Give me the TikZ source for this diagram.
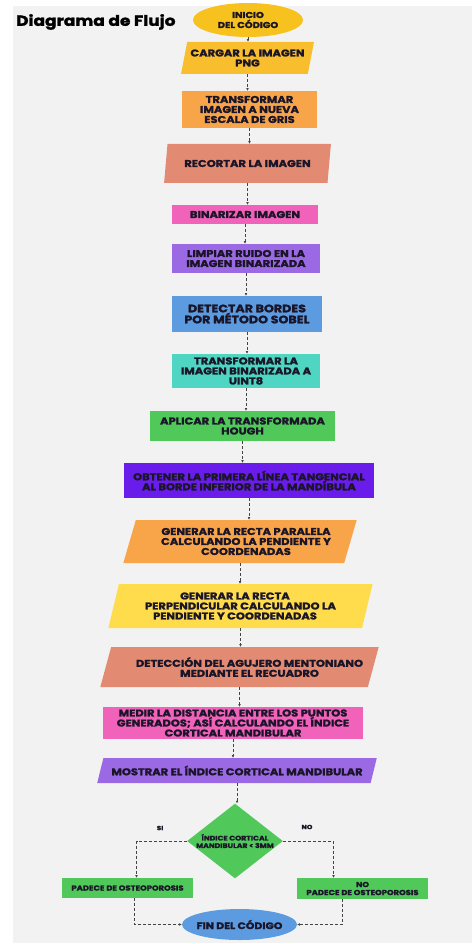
\documentclass[tikz,border=0pt]{standalone}
\usepackage{fontspec}
\setmainfont{Poppins}[BoldFeatures={FakeStretch=1.17,FakeBold=1.8}]
\usetikzlibrary{shapes.geometric,arrows.meta}
\definecolor{bg}{HTML}{F2F2F2}
\definecolor{txt}{HTML}{1A1528}
\definecolor{cini}{HTML}{F7C21E}
\definecolor{ccarg}{HTML}{F8BE2E}
\definecolor{corange}{HTML}{F8A54A}
\definecolor{csalmon}{HTML}{E28B72}
\definecolor{cpink}{HTML}{F162BA}
\definecolor{clav}{HTML}{9B69E4}
\definecolor{cblue}{HTML}{5C9BE0}
\definecolor{cteal}{HTML}{4ED6C2}
\definecolor{cgreen}{HTML}{50C85A}
\definecolor{cviolet}{HTML}{6A1CEB}
\definecolor{cyellow}{HTML}{FEDC4C}
\definecolor{cline}{HTML}{444444}
\begin{document}
\begin{tikzpicture}[x=1pt,y=-1pt,
  lbl/.style={text=txt,font=\bfseries\fontsize{9.8}{10}\selectfont,align=center,inner sep=0pt},
  rbox/.style={lbl,rectangle,fill=#1},
  pbox/.style={lbl,trapezium,trapezium stretches=true,fill=#1},
  conn/.style={cline,densely dashed,line width=0.8pt,-{Latex[length=2.6pt,width=2.6pt]}}]
\fill[white] (0,0) rectangle (472,944);
\fill[bg] (13,6) rectangle (472,943);
\node[anchor=west,font=\bfseries\fontsize{14.5}{17}\selectfont,text=black,inner sep=0pt] (title) at (16,22) {Diagrama de Flujo};

\node[lbl,ellipse,fill=cini,minimum width=110pt,minimum height=34pt,font=\bfseries\fontsize{8.5}{10}\selectfont] (ini) at (248,20) {INICIO\\DEL CÓDIGO};
\node[pbox=ccarg,minimum width=133pt,minimum height=32pt,trapezium left angle=71,trapezium right angle=109] (carg) at (247.5,58) {CARGAR LA IMAGEN\\PNG};
\node[rbox=corange,minimum width=135pt,minimum height=37pt] (tr1) at (249.5,109.5) {TRANSFORMAR\\IMAGEN A NUEVA\\ESCALA DE GRIS};
\node[pbox=csalmon,minimum width=167pt,minimum height=39pt,trapezium left angle=69,trapezium right angle=111] (rec) at (247.5,163.5) {RECORTAR LA IMAGEN};
\node[rbox=cpink,minimum width=146pt,minimum height=19pt] (bin) at (245,214.5) {BINARIZAR IMAGEN};
\node[rbox=clav,minimum width=148pt,minimum height=29pt] (lim) at (246,258.5) {LIMPIAR RUIDO EN LA\\IMAGEN BINARIZADA};
\node[rbox=cblue,minimum width=150pt,minimum height=36pt,font=\bfseries\fontsize{10.8}{11}\selectfont] (det) at (247,314) {DETECTAR BORDES\\POR MÉTODO SOBEL};
\node[rbox=cteal,minimum width=148pt,minimum height=34pt] (tr2) at (246,371) {TRANSFORMAR LA\\IMAGEN BINARIZADA A\\UINT8};
\node[rbox=cgreen,minimum width=185pt,minimum height=30pt] (apl) at (242.5,426) {APLICAR LA TRANSFORMADA\\HOUGH};
\node[rbox=cviolet,minimum width=250pt,minimum height=35pt] (obt) at (249,480.5) {OBTENER LA PRIMERA LÍNEA TANGENCIAL\\AL BORDE INFERIOR DE LA MANDÍBULA};
\node[pbox=corange,minimum width=234pt,minimum height=43pt,trapezium left angle=68,trapezium right angle=112] (par) at (240,541.5) {\hspace*{12pt}GENERAR LA RECTA PARALELA\\\hspace*{12pt}CALCULANDO LA PENDIENTE Y\\\hspace*{12pt}COORDENADAS};
\node[pbox=cyellow,minimum width=265pt,minimum height=44pt,trapezium left angle=73,trapezium right angle=107] (perp) at (240.5,606) {GENERAR LA RECTA\hspace*{11pt}\\PERPENDICULAR CALCULANDO LA\hspace*{11pt}\\PENDIENTE Y COORDENADAS\hspace*{11pt}};
\node[pbox=csalmon,minimum width=279pt,minimum height=40pt,trapezium left angle=62,trapezium right angle=118] (detc) at (239.5,667) {\hspace*{20pt}DETECCIÓN DEL AGUJERO MENTONIANO\\\hspace*{20pt}MEDIANTE EL RECUADRO};
\node[rbox=cpink,minimum width=260pt,minimum height=32pt] (med) at (233,723) {MEDIR LA DISTANCIA ENTRE LOS PUNTOS\\GENERADOS; ASÍ CALCULANDO EL ÍNDICE\\CORTICAL MANDIBULAR};
\node[pbox=clav,minimum width=280pt,minimum height=25pt,trapezium left angle=59,trapezium right angle=121] (most) at (237,770.5) {MOSTRAR EL ÍNDICE CORTICAL MANDIBULAR};
\node[lbl,diamond,fill=cgreen,shape aspect=1.28,font=\bfseries\fontsize{6.6}{7.5}\selectfont] (dia) at (235,841) {ÍNDICE CORTICAL\\MANDIBULAR < 3MM};
\node[rbox=cgreen,minimum width=131pt,minimum height=20pt,font=\bfseries\fontsize{7.2}{8}\selectfont] (pad) at (127.5,888) {PADECE DE OSTEOPOROSIS};
\node[rbox=cgreen,minimum width=131pt,minimum height=21pt,font=\bfseries\fontsize{7.2}{8}\selectfont] (nopad) at (362.5,888.5) {NO\\PADECE DE OSTEOPOROSIS};
\node[lbl,ellipse,fill=cblue,minimum width=115pt,minimum height=31pt,inner xsep=-2.5pt,font=\bfseries\fontsize{9.3}{10}\selectfont] (fin) at (239.5,924.5) {FIN DEL CÓDIGO};
\node[lbl,font=\bfseries\fontsize{6}{7}\selectfont] (si) at (160,828) {SI};
\node[lbl,font=\bfseries\fontsize{6}{7}\selectfont] (no) at (307,827) {NO};

\foreach \a/\b in {ini/carg,carg/tr1,tr1/rec,rec/bin,bin/lim,lim/det,det/tr2,tr2/apl,apl/obt,obt/par,par/perp,perp/detc,detc/med,med/most,most/dia}
  \draw[conn] (\a.south) -- (\a.south |- \b.north);
\draw[conn] (dia.west) -| ([xshift=9pt]pad.north);
\draw[conn] (dia.east) -| ([xshift=-29pt]nopad.north);
\draw[conn] ([xshift=7pt]pad.south) |- (fin.west);
\draw[conn] ([xshift=-20pt]nopad.south) |- (fin.east);
\end{tikzpicture}
\end{document}
